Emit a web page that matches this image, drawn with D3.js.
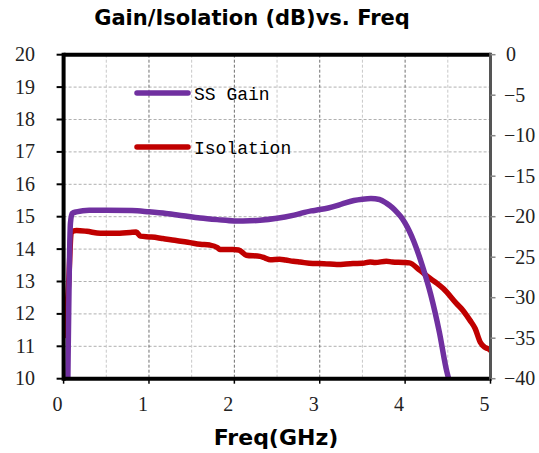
<!DOCTYPE html>
<html><head><meta charset="utf-8">
<script src="https://cdn.jsdelivr.net/npm/d3@7"></script>
<style>body{margin:0;background:#fff}svg{display:block}</style>
</head><body>
<svg id="c" width="539" height="453"></svg>
<script>
const title = "Gain/Isolation (dB)vs. Freq";
const xTitle = "Freq(GHz)";
const xTicks = [0,1,2,3,4,5];
const xGrid = [0.5,1,1.5,2,2.5,3,3.5,4,4.5];
const gainTicks = [10,11,12,13,14,15,16,17,18,19,20];
const isoTicks = [0,-5,-10,-15,-20,-25,-30,-35,-40];
const seriesNames = ["SS Gain","Isolation"];
const gainFreq = [0.05,0.08,0.1,0.15,0.3,0.5,0.8,1.0,1.2,1.4,1.6,1.8,2.0,2.1,2.3,2.5,2.7,2.9,3.0,3.1,3.2,3.3,3.4,3.5,3.6,3.7,3.78,3.85,3.9,3.95,4.0,4.05,4.1,4.2,4.3,4.4,4.49,4.52];
const gainVal  = [10,14.8,15.1,15.15,15.2,15.2,15.19,15.15,15.1,15.03,14.96,14.91,14.87,14.87,14.89,14.95,15.05,15.18,15.22,15.27,15.34,15.43,15.5,15.54,15.56,15.53,15.42,15.28,15.15,15.0,14.8,14.55,14.25,13.5,12.6,11.45,10.2,9.9];
const isoFreq = [0.02,0.06,0.09,0.15,0.27,0.43,0.6,0.78,0.85,0.9,1.01,1.1,1.16,1.3,1.48,1.6,1.71,1.8,1.83,1.98,2.05,2.14,2.3,2.36,2.42,2.53,2.6,2.69,2.77,2.92,3.05,3.2,3.39,3.5,3.59,3.65,3.78,3.85,3.98,4.05,4.17,4.29,4.37,4.45,4.6,4.68,4.76,4.82,4.88,4.93,4.97,5.0];
const isoVal  = [-35,-28,-21.9,-21.7,-21.8,-22.05,-22.05,-21.95,-21.9,-22.4,-22.5,-22.6,-22.7,-22.9,-23.2,-23.4,-23.5,-23.8,-24.05,-24.05,-24.1,-24.75,-24.9,-25.1,-25.3,-25.25,-25.35,-25.5,-25.6,-25.78,-25.8,-25.9,-25.78,-25.75,-25.58,-25.65,-25.5,-25.6,-25.65,-25.7,-26.6,-27.6,-28.2,-28.9,-30.7,-31.6,-32.8,-33.8,-35.5,-36.1,-36.3,-36.5];

const svg = d3.select("#c");
const L = 63.6, R = 490.5, T = 54.7, B = 378.7;
const x = d3.scaleLinear().domain([0,5]).range([L,R]);
const yG = d3.scaleLinear().domain([10,20]).range([B,T]);
const yI = d3.scaleLinear().domain([-40,0]).range([B,T]);

svg.append("clipPath").attr("id","clip").append("rect").attr("x",L).attr("y",T).attr("width",R-L).attr("height",B-T);

const g = svg.append("g");
g.selectAll(".hg").data(gainTicks.filter(d=>d>10&&d<20)).join("line")
  .attr("x1",L).attr("x2",R).attr("y1",d=>yG(d)).attr("y2",d=>yG(d))
  .attr("stroke","#b0b0b0").attr("stroke-width",1).attr("stroke-dasharray","3,2");
g.selectAll(".vg").data(xGrid).join("line")
  .attr("x1",d=>x(d)).attr("x2",d=>x(d)).attr("y1",T).attr("y2",B)
  .attr("stroke",d=>Number.isInteger(d)?"#707070":"#c8c8c8").attr("stroke-width",1).attr("stroke-dasharray","3,2");

const lineG = d3.line().x((d,i)=>x(gainFreq[i])).y(d=>yG(d)).curve(d3.curveMonotoneX);
const lineI = d3.line().x((d,i)=>x(isoFreq[i])).y(d=>yI(d)).curve(d3.curveMonotoneX);
const plot = svg.append("g").attr("clip-path","url(#clip)");
plot.append("path").datum(isoVal).attr("d",lineI).attr("fill","none").attr("stroke","#C00000").attr("stroke-width",5.5).attr("stroke-linejoin","round");
plot.append("path").datum(gainVal).attr("d",lineG).attr("fill","none").attr("stroke","#7030A0").attr("stroke-width",5.5).attr("stroke-linejoin","round");

svg.append("line").attr("x1",L).attr("x2",R).attr("y1",T).attr("y2",T).attr("stroke","#000").attr("stroke-width",4);
svg.append("line").attr("x1",L).attr("x2",R).attr("y1",B).attr("y2",B).attr("stroke","#000").attr("stroke-width",4);
svg.append("line").attr("x1",L).attr("x2",L).attr("y1",T-2).attr("y2",B+2).attr("stroke","#000").attr("stroke-width",4);
svg.append("line").attr("x1",R).attr("x2",R).attr("y1",T-2).attr("y2",B+2).attr("stroke","#555").attr("stroke-width",3);

const ax = svg.append("g");
ax.selectAll(".lt").data(gainTicks).join("line")
  .attr("x1",L-7).attr("x2",L).attr("y1",d=>yG(d)).attr("y2",d=>yG(d)).attr("stroke","#000").attr("stroke-width",2);
ax.selectAll(".ll").data(gainTicks).join("text")
  .attr("x",35).attr("y",d=>yG(d)+6.5).attr("text-anchor","end")
  .attr("font-family","Liberation Serif, serif").attr("font-size",20).attr("fill","#222").text(d=>d);
ax.selectAll(".rt").data(isoTicks).join("line")
  .attr("x1",R).attr("x2",R+5).attr("y1",d=>yI(d)).attr("y2",d=>yI(d)).attr("stroke","#888").attr("stroke-width",1.5);
ax.selectAll(".rl").data(isoTicks).join("text")
  .attr("x",d=>d===0?506:504).attr("y",d=>yI(d)+6.5)
  .attr("font-family","Liberation Serif, serif").attr("font-size",20).attr("fill","#222")
  .text(d=>d<0?"\u2212"+(-d):d);
ax.selectAll(".bt").data(xTicks).join("line")
  .attr("x1",d=>x(d)).attr("x2",d=>x(d)).attr("y1",B).attr("y2",B+5).attr("stroke","#000").attr("stroke-width",1.5);
ax.selectAll(".bl").data(xTicks).join("text")
  .attr("x",d=>x(d)-6).attr("y",411).attr("text-anchor","middle")
  .attr("font-family","Liberation Serif, serif").attr("font-size",20).attr("fill","#222").text(d=>d);

svg.append("text").attr("x",252).attr("y",25).attr("text-anchor","middle")
  .attr("font-family","DejaVu Sans, sans-serif").attr("font-weight","bold").attr("font-size",21).text(title);
svg.append("text").attr("x",276).attr("y",445).attr("text-anchor","middle")
  .attr("font-family","DejaVu Sans, sans-serif").attr("font-weight","bold").attr("font-size",22).text(xTitle);

const colors = ["#7030A0","#C00000"];
const legY = [93,147];
seriesNames.forEach((n,i)=>{
  svg.append("line").attr("x1",137).attr("x2",188).attr("y1",legY[i]).attr("y2",legY[i])
    .attr("stroke",colors[i]).attr("stroke-width",5.5).attr("stroke-linecap","round");
  svg.append("text").attr("x",194).attr("y",legY[i]+7)
    .attr("font-family","Liberation Mono, monospace").attr("font-size",18).attr("fill","#000").text(n);
});
</script>
</body></html>
